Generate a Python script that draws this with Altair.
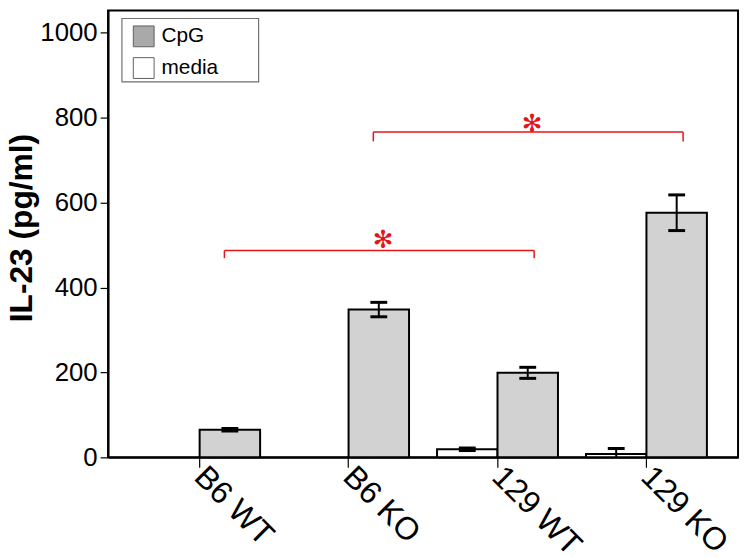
import altair as alt
import pandas as pd

# ---- data ----
groups = ["B6 WT", "B6 KO", "129 WT", "129 KO"]
cpg_mean = [65, 348, 199, 576]
cpg_err = [3, 17, 13, 42]
media_mean = [0, 0, 19, 8]
media_err = [0, 0, 3, 13]

y_ticks = [0, 200, 400, 600, 800, 1000]
legend_items = ["CpG", "media"]

# significance brackets
br_from = ["B6 WT", "B6 KO"]
br_to = ["129 WT", "129 KO"]
br_level = [487, 766]
br_foot = [469, 744]
star_group = ["B6 KO", "129 WT"]
star_level = [511, 784]

rows = []
for g, m, e in zip(groups, media_mean, media_err):
    rows.append({"group": g, "treatment": "media", "value": m, "err": e})
for g, m, e in zip(groups, cpg_mean, cpg_err):
    rows.append({"group": g, "treatment": "CpG", "value": m, "err": e})
df = pd.DataFrame(rows)
df["lo"] = (df["value"] - df["err"]).clip(lower=0)
df["hi"] = df["value"] + df["err"]
df_bars = df[df["value"] > 0]
df_err = df[df["err"] > 0]

br = pd.DataFrame({"x1": br_from, "x2": br_to, "y": br_level, "yf": br_foot})
stars = pd.DataFrame({"group": star_group, "y": star_level, "t": ["\u273b", "\u273b"]})
leg = pd.DataFrame({"treatment": legend_items, "group": ["B6 WT", "B6 WT"], "value": [0, 0]})
legend_frame = pd.DataFrame({"k": [0]})

FONT = "Liberation Sans"
RED = "#e3151b"
YMAX = 1052

xscale = alt.Scale(domain=groups, paddingInner=0.188, paddingOuter=0.209)
yscale = alt.Scale(domain=[0, YMAX], nice=False, zero=True)
off_scale = alt.Scale(domain=["media", "CpG"], paddingInner=0, paddingOuter=0)

x_enc = alt.X(
    "group:N",
    scale=xscale,
    sort=groups,
    axis=alt.Axis(
        title=None,
        labelAngle=45,
        labelAlign="left",
        labelBaseline="middle",
        labelFont=FONT,
        labelFontSize=32,
        labelColor="black",
        labelPadding=4,
        tickSize=10,
        tickColor="black",
        tickWidth=1.2,
        domainColor="black",
        domainWidth=2,
    ),
)

y_enc = alt.Y(
    "value:Q",
    scale=yscale,
    axis=alt.Axis(
        title="IL-23 (pg/ml)",
        values=y_ticks,
        format="d",
        grid=False,
        labelFont=FONT,
        labelFontSize=26,
        labelColor="black",
        labelPadding=3,
        tickSize=8,
        tickColor="black",
        tickWidth=1.2,
        domainColor="black",
        domainWidth=2,
        titleFont=FONT,
        titleFontSize=32,
        titleFontWeight="bold",
        titleColor="black",
        titleX=-87,
        titleY=219,
        titleAngle=-90,
        titleAlign="center",
        titleBaseline="middle",
    ),
)

# frame drawn behind the legend entries
legend_box = alt.Chart(legend_frame).mark_rect(
    fill="white", stroke="#707070", strokeWidth=1.2
).encode(
    x=alt.value(14), x2=alt.value(152), y=alt.value(8), y2=alt.value(72)
)

bars = alt.Chart(df_bars).mark_bar(stroke="black", strokeWidth=2).encode(
    x=x_enc,
    xOffset=alt.XOffset("treatment:N", scale=off_scale),
    y=y_enc,
    fill=alt.Fill(
        "treatment:N",
        scale=alt.Scale(domain=legend_items, range=["#d2d2d2", "#ffffff"]),
        legend=None,
    ),
)

legend_layer = alt.Chart(leg).mark_square(size=1, opacity=0).encode(
    x=alt.X("group:N", scale=xscale, sort=groups),
    y=alt.Y("value:Q", scale=yscale),
    color=alt.Color(
        "treatment:N",
        scale=alt.Scale(domain=legend_items, range=["#a9a9a9", "#ffffff"]),
        legend=alt.Legend(
            title=None,
            orient="none",
            legendX=25,
            legendY=15,
            padding=0,
            symbolType="square",
            symbolSize=441,
            symbolStrokeColor="#606060",
            symbolStrokeWidth=1,
            symbolOpacity=1,
            labelFont=FONT,
            labelFontSize=21,
            labelColor="black",
            labelOffset=7,
            rowPadding=6,
        ),
    ),
)

stem = alt.Chart(df_err).mark_rule(color="black", strokeWidth=2).encode(
    x=alt.X("group:N", scale=xscale, sort=groups),
    xOffset=alt.XOffset("treatment:N", scale=off_scale),
    y=alt.Y("lo:Q", scale=yscale),
    y2="hi:Q",
)
cap_hi = alt.Chart(df_err).mark_tick(color="black", thickness=3, size=17, opacity=1).encode(
    x=alt.X("group:N", scale=xscale, sort=groups),
    xOffset=alt.XOffset("treatment:N", scale=off_scale),
    y=alt.Y("hi:Q", scale=yscale),
)
cap_lo = alt.Chart(df_err[df_err["lo"] > 0]).mark_tick(color="black", thickness=3, size=17, opacity=1).encode(
    x=alt.X("group:N", scale=xscale, sort=groups),
    xOffset=alt.XOffset("treatment:N", scale=off_scale),
    y=alt.Y("lo:Q", scale=yscale),
)

br_h = alt.Chart(br).mark_rule(color=RED, strokeWidth=1.5, xOffset=25, x2Offset=37).encode(
    x=alt.X("x1:N", scale=xscale, sort=groups),
    x2="x2:N",
    y=alt.Y("y:Q", scale=yscale),
)
br_l = alt.Chart(br).mark_rule(color=RED, strokeWidth=1.5, xOffset=25).encode(
    x=alt.X("x1:N", scale=xscale, sort=groups),
    y=alt.Y("y:Q", scale=yscale),
    y2="yf:Q",
)
br_r = alt.Chart(br).mark_rule(color=RED, strokeWidth=1.5, xOffset=37).encode(
    x=alt.X("x2:N", scale=xscale, sort=groups),
    y=alt.Y("y:Q", scale=yscale),
    y2="yf:Q",
)
star = alt.Chart(stars).mark_text(
    color=RED, font="DejaVu Sans", fontSize=25, fontWeight="bold", xOffset=35, baseline="middle", align="center"
).encode(
    x=alt.X("group:N", scale=xscale, sort=groups),
    y=alt.Y("y:Q", scale=yscale),
    text="t:N",
)

chart = (
    alt.layer(legend_box, bars, legend_layer, stem, cap_hi, cap_lo, br_h, br_l, br_r, star)
    .resolve_scale(color="independent", fill="independent")
    .properties(
        width=636,
        height=451,
        autosize=alt.AutoSizeParams(type="none"),
        padding={"left": 101, "top": 0, "right": 4, "bottom": 100},
        background="white",
    )
    .configure_view(stroke="black", strokeWidth=2)
)

chart.save("out.html", embed_options={"renderer": "svg", "actions": False})
